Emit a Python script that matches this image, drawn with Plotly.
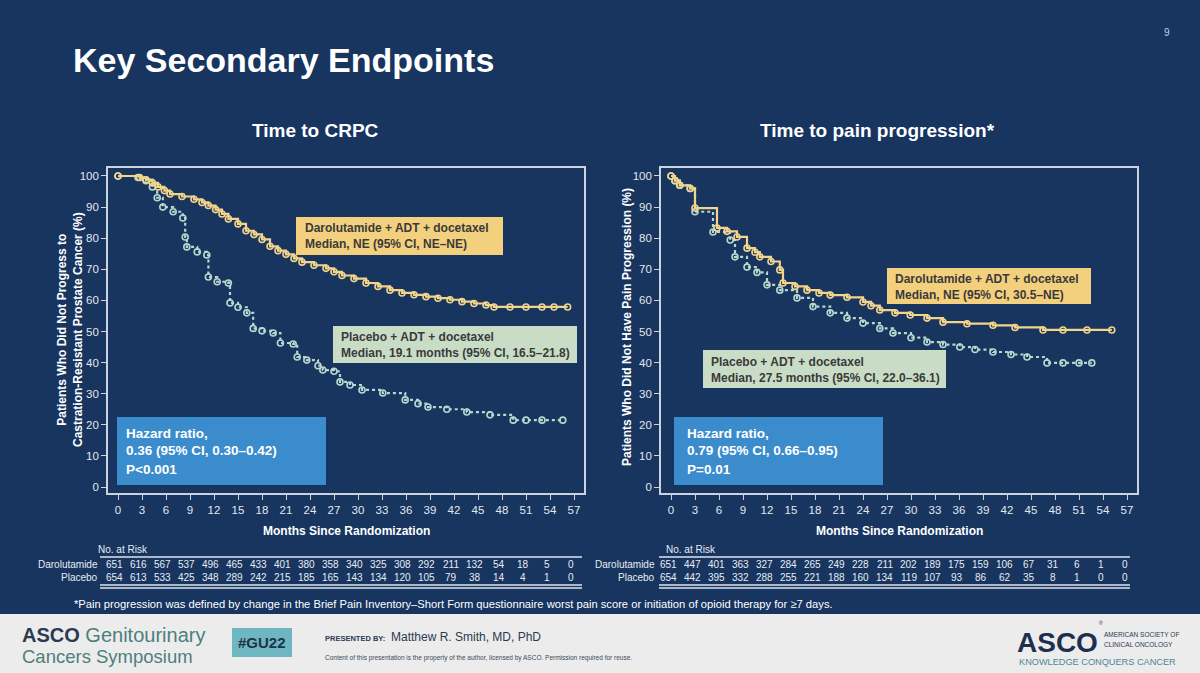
import plotly.graph_objects as go

W, H = 1200, 673
FONT = "Liberation Sans, Arial, sans-serif"
BG = "#17355f"
AX = "#cdd3de"
TICKC = "#e3e7ee"
DARO = "#f2d48a"
PLAC = "#b9d7cf"

# ---------------- data ----------------
months = list(range(0, 58, 3))

# Time to CRPC
crpc_daro_t = [0, 2.7, 3.5, 4.3, 5.0, 5.8, 6.5, 8.0, 9.5, 10.5, 11.3, 12.2, 13.0, 13.8, 15.0, 16.0, 17.0,
               18.0, 19.0, 20.0, 21.0, 22.0, 23.0, 24.5, 26.0, 27.0, 28.0, 29.5, 31.0, 32.5, 34.0, 35.5,
               37.0, 38.5, 40.0, 41.5, 43.0, 44.5, 46.0, 47.0, 49.0, 51.0, 53.0, 54.5, 56.2]
crpc_daro_s = [100, 99.5, 98.8, 97.8, 96.5, 95.3, 94.2, 93.4, 92.5, 91.5, 90.5, 89.2, 87.8, 86.2, 84.6,
               82.4, 81.2, 79.6, 77.4, 76.0, 74.8, 73.5, 72.3, 71.3, 70.3, 69.2, 68.0, 67.0, 65.6, 64.5,
               63.3, 62.4, 61.8, 61.2, 60.7, 60.2, 59.6, 59.0, 58.5, 57.9, 57.9, 57.9, 57.9, 57.9, 57.9]
crpc_plac_t = [0, 2.5, 3.5, 4.3, 4.9, 5.6, 6.9, 8.1, 8.4, 8.6, 9.9, 11.1, 11.3, 12.4, 13.8, 14.0, 15.0,
               16.1, 16.9, 18.0, 19.4, 20.3, 21.9, 22.4, 23.6, 25.0, 25.6, 27.0, 27.75, 29.0, 30.5, 33.1,
               35.9, 37.5, 38.75, 41.1, 43.6, 46.5, 49.4, 51.0, 53.0, 55.6]
crpc_plac_s = [100, 99.5, 98.5, 96.5, 93, 90, 88.5, 86.5, 80.4, 77.2, 75.6, 74.6, 67.5, 66.0, 65.6, 59.2,
               57.8, 56, 51, 50.2, 49.5, 46.3, 46, 41.8, 40.8, 39, 37.6, 37.2, 33.8, 32.8, 31.2, 30.2,
               28.0, 26.8, 25.7, 25.0, 24.1, 23.2, 21.5, 21.5, 21.5, 21.5]

# Time to pain progression
pain_daro_t = [0, 0.5, 1.1, 2.4, 3.0, 5.75, 7.0, 8.25, 9.5, 10.5, 11.1, 12.5, 13.6, 14.0, 15.5, 17.0,
               18.5, 19.9, 22.0, 24.0, 25.0, 26.1, 28.0, 29.9, 32.0, 34.0, 37.0, 40.25, 43.0, 46.5, 49.0,
               52.0, 55.1]
pain_daro_s = [100, 98.5, 97, 96, 89.7, 83.3, 82.2, 80.4, 76.8, 75.5, 74, 72.5, 69.8, 65.6, 64.5, 63.3,
               62.4, 61.7, 61.0, 59.5, 58.3, 56.9, 56.0, 55.3, 54.3, 53.0, 52.5, 52.0, 51.3, 50.5, 50.5,
               50.5, 50.5]
pain_plac_t = [0, 0.5, 1.1, 2.4, 3.0, 5.25, 7.4, 8.0, 9.5, 10.75, 12.0, 13.6, 15.75, 17.75, 19.9, 22.0,
               24.0, 26.1, 27.75, 30.0, 32.0, 34.0, 36.1, 38.0, 40.25, 42.5, 44.5, 47.0, 49.0, 51.0, 52.6]
pain_plac_s = [100, 98.5, 97, 96, 88.5, 82, 79.4, 74, 70.7, 69, 65, 63.3, 60.8, 58, 56, 54.3, 52.7, 51,
               49.5, 48, 46.6, 45.8, 45, 44.2, 43.4, 42.6, 41.8, 39.9, 39.9, 39.9, 39.9]

# Number at risk
crpc_risk_daro = [651, 616, 567, 537, 496, 465, 433, 401, 380, 358, 340, 325, 308, 292, 211, 132, 54, 18, 5, 0]
crpc_risk_plac = [654, 613, 533, 425, 348, 289, 242, 215, 185, 165, 143, 134, 120, 105, 79, 38, 14, 4, 1, 0]
pain_risk_daro = [651, 447, 401, 363, 327, 284, 265, 249, 228, 211, 202, 189, 175, 159, 106, 67, 31, 6, 1, 0]
pain_risk_plac = [654, 442, 395, 332, 288, 255, 221, 188, 160, 134, 119, 107, 93, 86, 62, 35, 8, 1, 0, 0]

# ---------------- helpers ----------------
def pxx(x):
    return x / W

def pxy(y):
    return 1 - y / H

annotations = []
shapes = []

def txt(x, y, s, size=12, color="white", bold=False, xanchor="left", yanchor="middle",
        xref="paper", angle=0, align="left", family=FONT):
    if bold:
        s = "<b>" + s + "</b>"
    annotations.append(dict(
        x=pxx(x) if xref == "paper" else x, y=pxy(y), xref=xref, yref="paper", text=s,
        showarrow=False, xanchor=xanchor, yanchor=yanchor, align=align, textangle=angle,
        font=dict(family=family, size=size, color=color)))

def rect(x0, y0, x1, y1, fill, line=None, lw=0):
    shapes.append(dict(type="rect", xref="paper", yref="paper", x0=pxx(x0), x1=pxx(x1),
                       y0=pxy(y1), y1=pxy(y0), fillcolor=fill,
                       line=dict(color=line or fill, width=lw), layer="above"))

def hline(x0, x1, y, color, width=1.2):
    shapes.append(dict(type="line", xref="paper", yref="paper", x0=pxx(x0), x1=pxx(x1),
                       y0=pxy(y), y1=pxy(y), line=dict(color=color, width=width)))

fig = go.Figure()

def km(t, s, color, dash, xa, ya):
    fig.add_trace(go.Scatter(
        x=t, y=s, mode="lines+markers", xaxis=xa, yaxis=ya, showlegend=False,
        line=dict(shape="hv", color=color, width=2.2, dash=dash),
        marker=dict(symbol="circle-open", size=6, color=color, line=dict(width=1.6, color=color))))

km(crpc_plac_t, crpc_plac_s, PLAC, "dot", "x", "y")
km(crpc_daro_t, crpc_daro_s, DARO, "solid", "x", "y")
km(pain_plac_t, pain_plac_s, PLAC, "dot", "x2", "y2")
km(pain_daro_t, pain_daro_s, DARO, "solid", "x2", "y2")

xr = [-1.25, 58.25]
yr = [-1.93, 102.57]
ydom = [1 - 493 / H, 1 - 168 / H]

def xaxis(dom, anchor):
    return dict(domain=dom, range=xr, tickvals=months, ticks="outside", ticklen=5, tickwidth=1.3,
                tickcolor=AX, showline=True, linecolor=AX, linewidth=1.6, mirror=True,
                showgrid=False, zeroline=False, anchor=anchor,
                tickfont=dict(family=FONT, size=11.5, color=TICKC))

def yaxis(anchor):
    return dict(domain=ydom, range=yr, tickvals=list(range(0, 101, 10)), ticks="outside", ticklen=5,
                tickwidth=1.3, tickcolor=AX, showline=True, linecolor=AX, linewidth=1.6, mirror=True,
                showgrid=False, zeroline=False, anchor=anchor,
                tickfont=dict(family=FONT, size=11.5, color=TICKC))

# ---------------- texts ----------------
txt(71, 60, "Key Secondary Endpoints", size=34, bold=True)
txt(1167, 32, "9", size=10, color="#c8d0dc", xanchor="center")

txt(315, 131, "Time to CRPC", size=19, bold=True, xanchor="center")
txt(877, 131, "Time to pain progression*", size=19, bold=True, xanchor="center")

txt(70, 330, "Patients Who Did Not Progress to<br>Castration-Resistant Prostate Cancer (%)",
    size=12, bold=True, xanchor="center", angle=-90, align="center")
txt(627, 327, "Patients Who Did Not Have Pain Progression (%)", size=12, bold=True,
    xanchor="center", angle=-90)

txt(346, 531, "Months Since Randomization", size=12, bold=True, xanchor="center")
txt(899, 531, "Months Since Randomization", size=12, bold=True, xanchor="center")

# annotation boxes - left
rect(296, 217, 503, 255, "#f3d07e")
txt(303, 228, "Darolutamide + ADT + docetaxel", size=12, bold=True, color="#3a3a3a")
txt(303, 244, "Median, NE (95% CI, NE–NE)", size=12, bold=True, color="#3a3a3a")
rect(333, 326, 577, 363, "#c9ddc6")
txt(339, 337, "Placebo + ADT + docetaxel", size=12, bold=True, color="#3a3a3a")
txt(339, 353, "Median, 19.1 months (95% CI, 16.5–21.8)", size=12, bold=True, color="#3a3a3a")
rect(117, 417, 326, 485, "#3b8ccd")
txt(124, 433, "Hazard ratio,", size=13.5, bold=True)
txt(124, 451, "0.36 (95% CI, 0.30–0.42)", size=13.5, bold=True)
txt(124, 469, "P<0.001", size=13.5, bold=True)

# annotation boxes - right
rect(887, 268, 1091, 304, "#f3d07e")
txt(893, 279, "Darolutamide + ADT + docetaxel", size=12, bold=True, color="#3a3a3a")
txt(893, 295, "Median, NE (95% CI, 30.5–NE)", size=12, bold=True, color="#3a3a3a")
rect(703, 350, 946, 388, "#c9ddc6")
txt(709, 362, "Placebo + ADT + docetaxel", size=12, bold=True, color="#3a3a3a")
txt(709, 378, "Median, 27.5 months (95% CI, 22.0–36.1)", size=12, bold=True, color="#3a3a3a")
rect(674, 417, 883, 485, "#3b8ccd")
txt(685, 433, "Hazard ratio,", size=13.5, bold=True)
txt(685, 451, "0.79 (95% CI, 0.66–0.95)", size=13.5, bold=True)
txt(685, 469, "P=0.01", size=13.5, bold=True)

# number at risk tables
TBL = "#e8ecf2"
def risk_table(xref, label_x, nar_x, line_x0, line_x1, daro, plac, shift):
    txt(nar_x, 549, "No. at Risk", size=10, color=TBL)
    txt(label_x, 564, "Darolutamide", size=10, color=TBL, xanchor="right")
    txt(label_x, 577, "Placebo", size=10, color=TBL, xanchor="right")
    for m, a, b in zip(months, daro, plac):
        txt(m + shift, 564, str(a), size=10, color=TBL, xanchor="center", xref=xref)
        txt(m + shift, 577, str(b), size=10, color=TBL, xanchor="center", xref=xref)
    hline(line_x0, line_x1, 557, "#dfe4ec", 1.3)
    hline(line_x0, line_x1, 585, "#dfe4ec", 1.3)
    hline(line_x0, line_x1, 588, "#dfe4ec", 1.3)

risk_table("x", 100, 96, 100, 582, crpc_risk_daro, crpc_risk_plac, -0.4)
risk_table("x2", 657, 664, 659, 1130, pain_risk_daro, pain_risk_plac, -0.3)

txt(72, 604, "*Pain progression was defined by change in the Brief Pain Inventory–Short Form "
    "questionnaire worst pain score or initiation of opioid therapy for ≥7 days.",
    size=11.2, color="white")

# footer
shapes.append(dict(type="rect", xref="paper", yref="paper", x0=0, x1=1, y0=0, y1=pxy(614),
                   fillcolor="#ececec", line=dict(width=0), layer="below"))
txt(20, 635, "<b>ASCO</b><span style='color:#4c7f7c'> Genitourinary</span>", size=20,
    color="#2b3a50")
txt(20, 656, "Cancers Symposium", size=18.5, color="#4c7f7c")
rect(232, 628, 292, 657, "#6db6c2")
txt(262, 642, "#GU22", size=15, bold=True, color="#1f3347", xanchor="center")
txt(323, 638, "PRESENTED BY:", size=7.5, bold=True, color="#2b3a50")
txt(389, 637, "Matthew R. Smith, MD, PhD", size=12, color="#2b3a50")
txt(323, 658, "Content of this presentation is the property of the author, licensed by ASCO. "
    "Permission required for reuse.", size=6.5, color="#3a4a5a")
txt(1015, 642, "<b>ASCO</b>", size=28, color="#1d2f4f")
txt(1097, 623, "®", size=5, color="#1d2f4f")
txt(1102, 634, "AMERICAN SOCIETY OF", size=6.5, color="#2b3a50")
txt(1102, 644, "CLINICAL ONCOLOGY", size=6.5, color="#2b3a50")
txt(1017, 662, "KNOWLEDGE CONQUERS CANCER", size=9.2, color="#4a8896")

fig.update_layout(
    width=W, height=H, margin=dict(l=0, r=0, t=0, b=0),
    paper_bgcolor=BG, plot_bgcolor=BG, showlegend=False,
    xaxis=xaxis([108 / W, 584 / W], "y"), yaxis=yaxis("x"),
    xaxis2=xaxis([661 / W, 1137 / W], "y2"), yaxis2=yaxis("x2"),
    annotations=annotations, shapes=shapes,
)

fig.write_html("out.html")
